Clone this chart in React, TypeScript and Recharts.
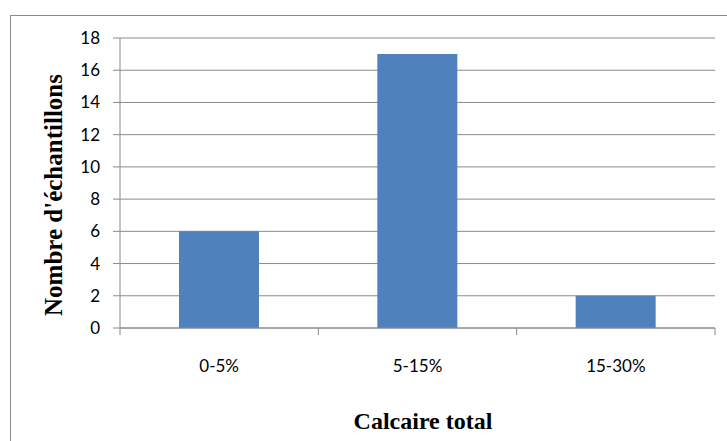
import React from "react";
import { BarChart, Bar, XAxis, YAxis, CartesianGrid, Label } from "recharts";

const categories = ["0-5%", "5-15%", "15-30%"];
const counts = [6, 17, 2];
const yTicks = [0, 2, 4, 6, 8, 10, 12, 14, 16, 18];
const yTitle = "Nombre d'échantillons";
const xTitle = "Calcaire total";

const data = categories.map((c, i) => ({ cat: c, n: counts[i] }));

const W = 727;
const H = 441;
const M_TOP = 38;
const M_RIGHT = 12;
const Y_W = 120;
const X_H = 113;
const PLOT_BOTTOM = H - X_H;
const PLOT_W = W - M_RIGHT - Y_W;
const BAND = PLOT_W / categories.length;
const GRAY = "#8a8a8a";
const TICK_FONT = "Lato, 'Open Sans', sans-serif";
const TITLE_FONT = "'Liberation Serif', 'Times New Roman', serif";

const XTick = (props: any) => {
  const { x, payload, index } = props;
  const half = BAND / 2;
  return (
    <g>
      <line x1={x - half} x2={x - half} y1={PLOT_BOTTOM} y2={PLOT_BOTTOM + 7} stroke={GRAY} />
      {index === categories.length - 1 && (
        <line x1={x + half} x2={x + half} y1={PLOT_BOTTOM} y2={PLOT_BOTTOM + 7} stroke={GRAY} />
      )}
      <text x={x} y={PLOT_BOTTOM + 44} textAnchor="middle" fill="#000" fontFamily={TICK_FONT} fontSize={17}>
        {payload.value}
      </text>
    </g>
  );
};

export default function App() {
  return (
    <div style={{ position: "absolute", left: 0, top: 0, width: W, height: H, overflow: "hidden", background: "#fff" }}>
      <div
        style={{
          position: "absolute",
          left: 10,
          top: 15,
          width: 800,
          height: 500,
          borderLeft: `1.5px solid ${GRAY}`,
          borderTop: `1.5px solid ${GRAY}`,
        }}
      />
      <div style={{ position: "absolute", left: 0, top: 0 }}>
        <BarChart width={W} height={H} data={data} margin={{ top: M_TOP, right: M_RIGHT, left: 0, bottom: 0 }}>
          <CartesianGrid vertical={false} stroke={GRAY} />
          <XAxis
            dataKey="cat"
            height={X_H}
            tickLine={false}
            axisLine={{ stroke: GRAY }}
            tick={<XTick />}
            interval={0}
          >
            <Label
              content={() => (
                <text x={423} y={429} textAnchor="middle" fontFamily={TITLE_FONT} fontWeight="bold" fontSize={24} fill="#000">
                  {xTitle}
                </text>
              )}
            />
          </XAxis>
          <YAxis
            width={Y_W}
            domain={[0, 18]}
            ticks={yTicks}
            interval={0}
            tickSize={7}
            tickMargin={13}
            axisLine={{ stroke: GRAY }}
            tickLine={{ stroke: GRAY }}
            tick={{ fill: "#000", fontFamily: TICK_FONT, fontSize: 17 }}
          >
            <Label
              content={() => (
                <text
                  x={62}
                  y={195}
                  transform="rotate(-90 62 195)"
                  textAnchor="middle"
                  fontFamily={TITLE_FONT}
                  fontWeight="bold"
                  fontSize={25}
                  fill="#000"
                >
                  {yTitle}
                </text>
              )}
            />
          </YAxis>
          <Bar dataKey="n" fill="#4F81BD" barSize={80} isAnimationActive={false} />
        </BarChart>
      </div>
    </div>
  );
}
